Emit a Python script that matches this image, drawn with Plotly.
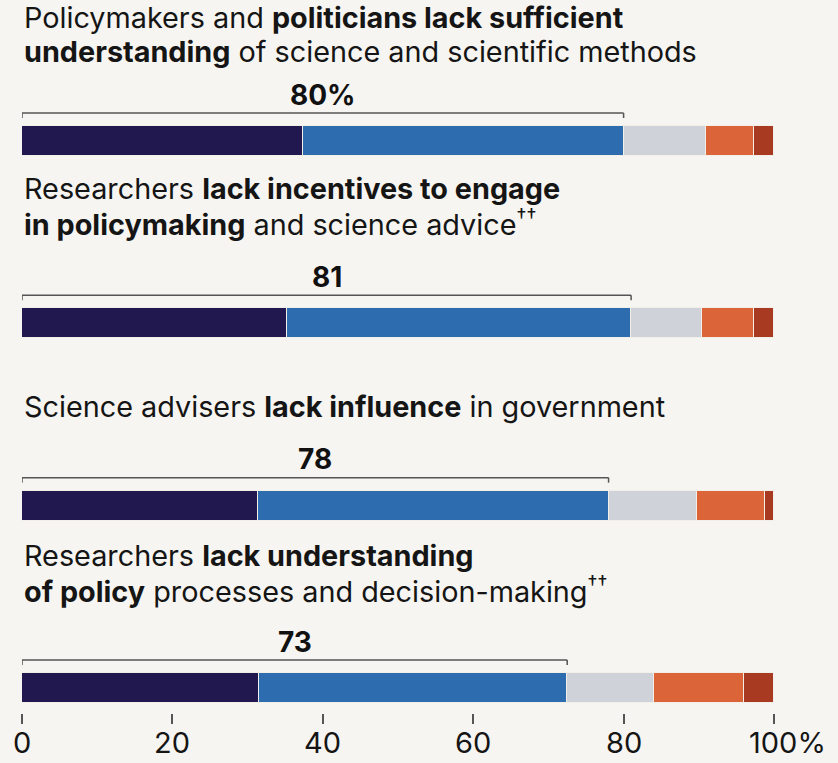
import plotly.graph_objects as go

# ---------------- data ----------------
row_keys = ["q1", "q2", "q3", "q4"]
title_lines = [
    ["Policymakers and <b>politicians lack sufficient</b>",
     "<b>understanding</b> of science and scientific methods"],
    ["Researchers <b>lack incentives to engage</b>",
     "<b>in policymaking</b> and science advice<sup>††</sup>"],
    ["Science advisers <b>lack influence</b> in government"],
    ["Researchers <b>lack understanding</b>",
     "<b>of policy</b> processes and decision-making<sup>††</sup>"],
]
strongly_agree = [37.4, 35.2, 31.4, 31.5]
agree = [42.6, 45.8, 46.6, 41.0]
neutral = [10.9, 9.4, 11.7, 11.6]
disagree = [6.5, 6.9, 9.1, 11.9]
strongly_disagree = [2.6, 2.7, 1.2, 4.0]
agree_labels = ["80%", "81", "78", "73"]
tick_vals = [0, 20, 40, 60, 80, 100]
tick_text = ["0", "20", "40", "60", "80", "100%"]

# ---------------- style ----------------
W, H = 838, 763
BG = "#f7f5f1"
FONT = "Inter"
TITLE_FS = 28.8
colors = ["#211850", "#2e6cb0", "#cfd3d9", "#db6438", "#a83a22"]
series = [strongly_agree, agree, neutral, disagree, strongly_disagree]
names = ["Strongly agree", "Agree", "Neutral", "Disagree", "Strongly disagree"]

M_L, M_R, M_T, M_B = 22, 64, 0, 50
plot_h = H - M_T - M_B
first_c, last_c = 141, 688           # pixel centres of first / last bar
unit = (last_c - first_c) / 3.0      # px per category step
y_top = -(first_c - M_T) / unit
y_bot = 3 + (M_T + plot_h - last_c) / unit
bar_w = 30 / unit


def py(px):
    """figure pixel (from top) -> paper y (plot-area relative)"""
    return (M_T + plot_h - px) / plot_h


fig = go.Figure()
for vals, col, nm in zip(series, colors, names):
    fig.add_trace(go.Bar(
        x=vals, y=row_keys, orientation="h", name=nm,
        marker=dict(color=col, line=dict(color="#f2efe9", width=1)),
        width=bar_w, hoverinfo="skip",
    ))

shapes = []
annotations = []
br_off = 28 / unit
tick_len = 5 / unit
LAB_FS = 28
lab_off = (36 + 0.365 * LAB_FS) / unit
for i, k in enumerate(row_keys):
    tot = strongly_agree[i] + agree[i]
    yb = i - br_off
    line = dict(color="#555555", width=1.5)
    shapes.append(dict(type="line", xref="x", yref="y", x0=0, x1=tot, y0=yb, y1=yb, line=line))
    shapes.append(dict(type="line", xref="x", yref="y", x0=0, x1=0, y0=yb, y1=yb + tick_len, line=line))
    shapes.append(dict(type="line", xref="x", yref="y", x0=tot, x1=tot, y0=yb, y1=yb + tick_len, line=line))
    annotations.append(dict(
        x=tot / 2, y=i - lab_off, xref="x", yref="y", text="<b>%s</b>" % agree_labels[i],
        showarrow=False, xanchor="center", yanchor="middle",
        font=dict(family=FONT, size=LAB_FS, color="#111111"),
    ))

# question titles: baseline (px) of each line
title_baselines = [[28, 62], [199, 233], [417], [566, 600]]
for lines, bls in zip(title_lines, title_baselines):
    for t, bl in zip(lines, bls):
        annotations.append(dict(
            x=0, y=py(bl - 0.365 * TITLE_FS), xref="paper", yref="paper", text=t,
            showarrow=False, xanchor="left", yanchor="middle", align="left",
            font=dict(family=FONT, size=TITLE_FS, color="#151515"),
        ))

# tick labels
for v, t in zip(tick_vals, tick_text):
    a = dict(x=v, y=py(742.5), xref="x", yref="paper", text=t, showarrow=False,
             xanchor="center", yanchor="middle",
             font=dict(family=FONT, size=29, color="#151515"))
    if t.endswith("%"):
        a["xanchor"] = "left"
        a["xshift"] = -27
    annotations.append(a)

fig.update_layout(
    width=W, height=H, barmode="stack", showlegend=False,
    paper_bgcolor=BG, plot_bgcolor=BG, bargap=0,
    margin=dict(l=M_L, r=M_R, t=M_T, b=M_B, pad=0),
    xaxis=dict(range=[0, 100], tickvals=tick_vals, showticklabels=False,
               ticks="outside", ticklen=10, tickwidth=1.5, tickcolor="#555555",
               showgrid=False, zeroline=False, showline=False, fixedrange=True),
    yaxis=dict(type="category", categoryorder="array", categoryarray=row_keys,
               range=[y_bot, y_top], showticklabels=False, showgrid=False,
               zeroline=False, showline=False, fixedrange=True),
    shapes=shapes, annotations=annotations,
)

fig.write_html("out.html", config={"displayModeBar": False},
               post_script="document.body.style.margin='0';document.body.style.background='%s';" % BG)
